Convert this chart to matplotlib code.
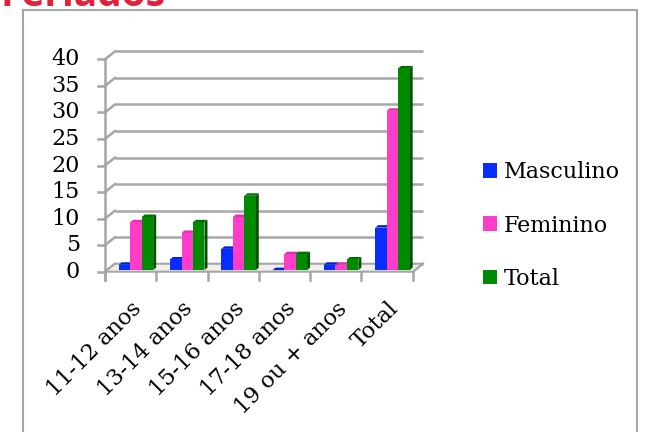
import matplotlib
matplotlib.use("Agg")
import matplotlib.pyplot as plt
from matplotlib.patches import Polygon, Rectangle

# ---- data ----
categories = ['11-12 anos', '13-14 anos', '15-16 anos', '17-18 anos', '19 ou + anos', 'Total']
masculino = [1, 2, 4, 0, 1, 8]
feminino = [9, 7, 10, 3, 1, 30]
total = [10, 9, 14, 3, 2, 38]
series_names = ['Masculino', 'Feminino', 'Total']
y_ticks = [0, 5, 10, 15, 20, 25, 30, 35, 40]
title = 'Feriados'

# ---- styles ----
front_cols = ['#0a2dff', '#ff3dc8', '#008a00']
side_cols = ['#001c99', '#b0228a', '#005200']
top_cols = ['#0524c8', '#e02fb0', '#006e00']
grid_col = '#a6a6a6'
serif = 'DejaVu Serif'
fs = 16

fig = plt.figure(figsize=(6.51, 4.32), dpi=100)
ax = fig.add_axes([0.1376, 0.3465, 0.528, 0.5407])
ax.set_xlim(-0.3, 6.4)
ax.set_ylim(-2, 42)
ax.axis('off')

n = len(categories)
DX, DY = 0.195, 1.5  # depth of back wall

# floor
floor = Polygon([(0, 0), (n, 0), (n + DX, DY), (DX, DY)], closed=True,
                facecolor='#f0f0f0', edgecolor=grid_col, lw=1.5, zorder=1)
ax.add_patch(floor)

# gridlines on back wall + diagonals + ticks
for v in y_ticks:
    ax.plot([DX, n + DX], [v + DY, v + DY], color=grid_col, lw=1.8, zorder=0.5,
            solid_capstyle='butt')
    ax.plot([0, DX], [v, v + DY], color=grid_col, lw=1.8, zorder=0.6)
    ax.plot([-0.14, 0], [v, v], color=grid_col, lw=1.8, zorder=0.6, clip_on=False)
    ax.text(-0.487, v, str(v), ha='right', va='center', fontsize=fs,
            family=serif, color='black', clip_on=False)
ax.plot([0, 0], [-1.6, y_ticks[-1]], color=grid_col, lw=1.8, zorder=0.7)
ax.plot([n, n + DX], [0, DY], color=grid_col, lw=1.8, zorder=0.7)
for i in range(n + 1):
    ax.plot([i, i], [0, -1.6], color=grid_col, lw=1.8, zorder=0.7, clip_on=False)

# bars
w = 0.224
start = 0.228
fx, by = 0.04, 0.3
bdx, bdy = 0.058, 0.47
handles = []
for k, vals in enumerate([masculino, feminino, total]):
    xs = [i + start + k * w + fx for i in range(n)]
    bc = ax.bar(xs, vals, width=w, bottom=by, align='edge', color=front_cols[k],
                edgecolor='none', zorder=3 + k * 0.01, label=series_names[k])
    handles.append(bc)
    for x, v in zip(xs, vals):
        side = Polygon([(x + w, by), (x + w + bdx, by + bdy), (x + w + bdx, by + v + bdy),
                        (x + w, by + v)], closed=True, facecolor=side_cols[k],
                       edgecolor='none', zorder=2.5 + k * 0.01)
        top = Polygon([(x, by + v), (x + w, by + v), (x + w + bdx, by + v + bdy),
                       (x + bdx, by + v + bdy)], closed=True, facecolor=top_cols[k],
                      edgecolor='none', zorder=2.6 + k * 0.01)
        ax.add_patch(side)
        ax.add_patch(top)

# category labels
for i, c in enumerate(categories):
    ax.text(i + 0.5, -4.9, c, rotation=45, ha='right', va='top',
            rotation_mode='anchor', fontsize=fs, family=serif, clip_on=False)

# legend
leg = ax.legend(handles=handles, labels=series_names, loc='center left',
                bbox_to_anchor=(483 / 651, 1 - 225.5 / 432), bbox_transform=fig.transFigure,
                frameon=False, borderpad=0, borderaxespad=0, handlelength=0.62,
                handleheight=0.62, handletextpad=0.3, labelspacing=1.4,
                prop={'family': serif, 'size': fs})

# frame
fig.add_artist(Rectangle((23 / 651, -0.1), (637 - 23) / 651, 1.1 - 10 / 432,
                         transform=fig.transFigure, fill=False, edgecolor=grid_col, lw=1.5))

# clipped title
fig.text(0.0, 1 - 6 / 432, title, color='#e3203c', fontsize=28, family='Open Sans',
         weight='bold', va='baseline', ha='left')

fig.savefig('out.png', dpi=100)
